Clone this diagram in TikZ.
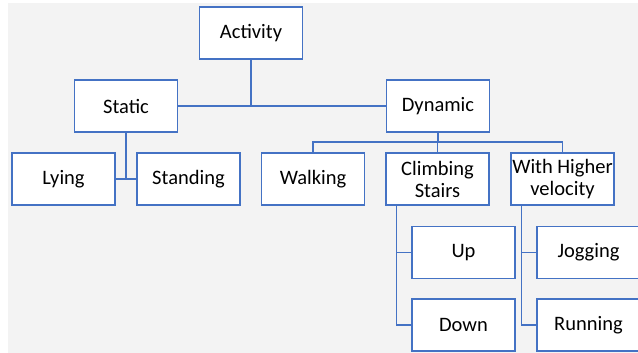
\documentclass[tikz,border=0pt]{standalone}
\usepackage{fontspec}
\setmainfont{Carlito}
\definecolor{boxblue}{HTML}{4472C4}
\definecolor{panel}{HTML}{F3F3F3}
\begin{document}
\begin{tikzpicture}[x=1pt,y=-1pt,
  box/.style={draw=boxblue, line width=1.2pt, fill=white, minimum width=103pt,
    minimum height=52pt, inner sep=0pt, align=center,
    font=\fontsize{20.5}{22}\selectfont},
  link/.style={draw=boxblue, line width=1.2pt}]
\clip (0,0) rectangle (638,353);
\useasboundingbox (0,0) rectangle (638,353);
\fill[panel] (8,3) rectangle (640,355);

% tree nodes
\node[box] (act)   at (251,33)    {Activity};
\node[box] (stat)  at (126,106)   {Static};
\node[box] (dyn)   at (438,106)   {Dynamic};
\node[box] (lying) at (63.5,179)  {Lying};
\node[box] (stand) at (188.5,179) {Standing};
\node[box] (walk)  at (313,179)   {Walking};
\node[box] (climb) at (437.5,179) {Climbing\\Stairs};
\node[box] (high)  at (562.5,179) {With Higher\\velocity};
\node[box] (up)    at (463.5,252.5) {Up};
\node[box] (down)  at (463.5,325) {Down};
\node[box] (jog)   at (588.5,252.5) {Jogging};
\node[box] (run)   at (588.5,325) {Running};

% connectors
\coordinate (dbus) at (438,142);
\draw[link] (stat.east) -- (dyn.west);
\draw[link] (act.south) -- (act.south |- stat.east);
\draw[link] (stat.south) -- (stat.south |- lying.east);
\draw[link] (lying.east) -- (stand.west);
\draw[link] (dyn.south) -- (dbus);
\draw[link] (walk.north) |- (dbus) -| (high.north);
\draw[link] (climb.north) -- (climb.north |- dbus);
\draw[link] ([xshift=11pt]climb.south west) |- (up.west);
\draw[link] ([xshift=11pt]climb.south west) |- (down.west);
\draw[link] ([xshift=11pt]high.south west) |- (jog.west);
\draw[link] ([xshift=11pt]high.south west) |- (run.west);
\end{tikzpicture}
\end{document}
